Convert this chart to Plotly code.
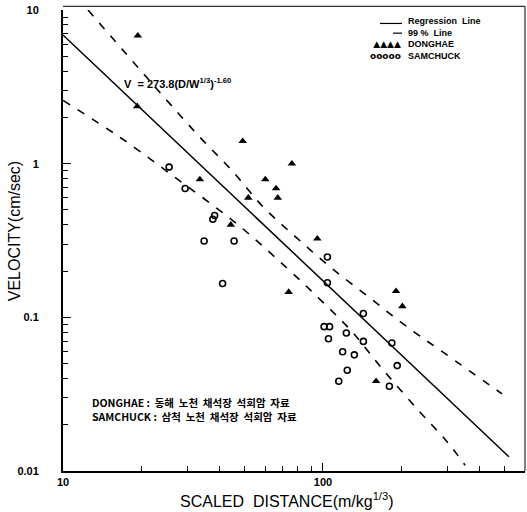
import plotly.graph_objects as go

# ---- data ----
donghae_d = [19.4, 19.3, 49.1, 75.9, 33.6, 60.0, 66.0, 51.6, 67.0, 44.2, 73.8, 95.1, 191, 202, 160]
donghae_v = [6.8, 2.36, 1.40, 1.00, 0.79, 0.79, 0.69, 0.60, 0.60, 0.40, 0.146, 0.325, 0.148, 0.118, 0.0384]

samchuck_d = [25.6, 29.5, 37.7, 38.3, 34.9, 45.5, 41.1, 104, 104, 143, 101, 106, 105, 123,
              143, 184, 119, 132, 193, 124, 115, 180]
samchuck_v = [0.95, 0.69, 0.435, 0.46, 0.314, 0.314, 0.166, 0.247, 0.168, 0.106, 0.087, 0.087,
              0.0726, 0.079, 0.0697, 0.068, 0.0597, 0.057, 0.0485, 0.0453, 0.0384, 0.0356]

reg_k = 273.8
reg_n = -1.60
reg_d = [10, 519]

upper_d = [12.48, 25.1, 33.7, 44.7, 58.8, 79.4, 108, 152, 210, 295, 488]
upper_v = [10.0, 2.58, 1.48, 0.90, 0.524, 0.328, 0.209, 0.133, 0.087, 0.058, 0.0318]

lower_d = [10, 16.6, 27.4, 46.7, 72.7, 97.3, 129, 170, 230, 300, 352]
lower_v = [2.58, 1.48, 0.798, 0.405, 0.209, 0.131, 0.081, 0.0457, 0.0254, 0.0155, 0.0109]

x_major = [10, 100]
x_major_text = ["10", "100"]
x_minor = [20, 30, 40, 50, 60, 70, 80, 90, 200, 300, 400, 500]
y_major = [0.01, 0.1, 1, 10]
y_major_text = ["0.01", "0.1", "1", "10"]
y_minor = [m * 10.0 ** e for e in (-2, -1, 0) for m in range(2, 10)]

legend_labels = ["Regression  Line", "99 %  Line", "DONGHAE", "SAMCHUCK"]

reg_v = [reg_k * d ** reg_n for d in reg_d]

fig = go.Figure()
fig.add_trace(go.Scatter(x=reg_d, y=reg_v, mode="lines", name=legend_labels[0],
                         line=dict(color="black", width=1.5)))
fig.add_trace(go.Scatter(x=upper_d, y=upper_v, mode="lines", name=legend_labels[1],
                         line=dict(color="black", width=1.6, dash="8px,9px", shape="spline")))
fig.add_trace(go.Scatter(x=lower_d, y=lower_v, mode="lines", name=legend_labels[1],
                         line=dict(color="black", width=1.6, dash="8px,9px", shape="spline")))
fig.add_trace(go.Scatter(x=donghae_d, y=donghae_v, mode="markers", name=legend_labels[2],
                         marker=dict(symbol="triangle-up", size=7.5, color="black")))
fig.add_trace(go.Scatter(x=samchuck_d, y=samchuck_v, mode="markers", name=legend_labels[3],
                         marker=dict(symbol="circle-open", size=6, color="black",
                                     line=dict(width=1.6, color="black"))))

tickfont = dict(family="Liberation Sans", size=11, color="black")
fig.update_xaxes(type="log", range=[1, 2.777], showline=True, linecolor="black", linewidth=2,
                 ticks="inside", ticklen=8, tickwidth=1, tickcolor="black",
                 tickvals=x_major, ticktext=["<b>%s</b>" % t for t in x_major_text], tickfont=tickfont,
                 minor=dict(ticks="inside", ticklen=5, tickvals=x_minor, tickcolor="black", tickwidth=1),
                 showgrid=False, zeroline=False)
fig.update_yaxes(type="log", range=[-2, 1], showline=True, linecolor="black", linewidth=2,
                 ticks="inside", ticklen=8, tickwidth=1, tickcolor="black",
                 tickvals=y_major, ticktext=["<b>%s</b>" % t for t in y_major_text],
                 tickfont=tickfont, ticklabelstandoff=20,
                 minor=dict(ticks="inside", ticklen=5, tickvals=y_minor, tickcolor="black", tickwidth=1),
                 showgrid=False, zeroline=False)


def px(x):
    return (x - 63) / 462


def py(y):
    return (471 - y) / 461


leg_size = 9
leg_step = 1.3 * leg_size
leg_center = 38
leg_rows = [leg_center + (i - 1.5) * leg_step for i in range(4)]

shapes = [
    dict(type="line", xref="paper", yref="paper", x0=0, x1=1, y0=1.008, y1=1.008,
         line=dict(color="black", width=1)),
    dict(type="line", xref="paper", yref="paper", x0=1, x1=1, y0=0, y1=1.008,
         line=dict(color="black", width=1)),
    # legend samples
    dict(type="line", xref="paper", yref="paper", x0=px(380), x1=px(402),
         y0=py(leg_rows[0] + 3), y1=py(leg_rows[0] + 3), line=dict(color="black", width=1.2)),
    dict(type="line", xref="paper", yref="paper", x0=px(393), x1=px(402),
         y0=py(leg_rows[1] + 1), y1=py(leg_rows[1] + 1), line=dict(color="black", width=1.2)),
]

annots = [
    dict(text="VELOCITY(cm/sec)", xref="paper", yref="paper", x=0, xshift=-49, y=0.52,
         textangle=-90, showarrow=False, font=dict(family="Liberation Sans", size=16, color="black"),
         xanchor="center", yanchor="middle"),
    dict(text="SCALED  DISTANCE(m/kg<sup>1/3</sup>)", xref="paper", yref="paper", x=0.485, y=-0.062,
         showarrow=False, font=dict(family="Liberation Sans", size=16, color="black"),
         xanchor="center", yanchor="middle"),
    dict(text="<b>V  = 273.8(D/W<sup>1/3</sup>)<sup>-1.60</sup></b>", xref="paper", yref="paper",
         x=px(122), y=py(83), showarrow=False,
         font=dict(family="Liberation Sans", size=11, color="black"), xanchor="left", yanchor="middle"),
    dict(text="<b>DONGHAE :  동해  노천  채석장  석회암  자료</b><br>"
              "<b>SAMCHUCK :  삼척  노천  채석장  석회암  자료</b>",
         xref="paper", yref="paper", x=px(90), y=py(409), showarrow=False, align="left",
         font=dict(family="Noto Sans CJK KR", size=10.5, color="black"), xanchor="left", yanchor="middle"),
    dict(text="<br>".join("<b>%s</b>" % lab for lab in legend_labels),
         xref="paper", yref="paper", x=px(407), y=py(leg_center), showarrow=False, align="left",
         font=dict(family="Liberation Sans", size=leg_size, color="black"),
         xanchor="left", yanchor="middle", borderpad=0),
    dict(text="▲▲▲▲<br><b>ooooo</b>", xref="paper", yref="paper", x=px(402),
         y=py((leg_rows[2] + leg_rows[3]) / 2), showarrow=False, align="right",
         font=dict(family="DejaVu Sans", size=leg_size, color="black"),
         xanchor="right", yanchor="middle", borderpad=0),
]

fig.update_layout(
    width=527, height=512,
    margin=dict(l=63, r=2, t=10, b=41),
    paper_bgcolor="white", plot_bgcolor="white",
    annotations=annots,
    shapes=shapes,
    showlegend=False,
)

fig.write_html("out.html")
